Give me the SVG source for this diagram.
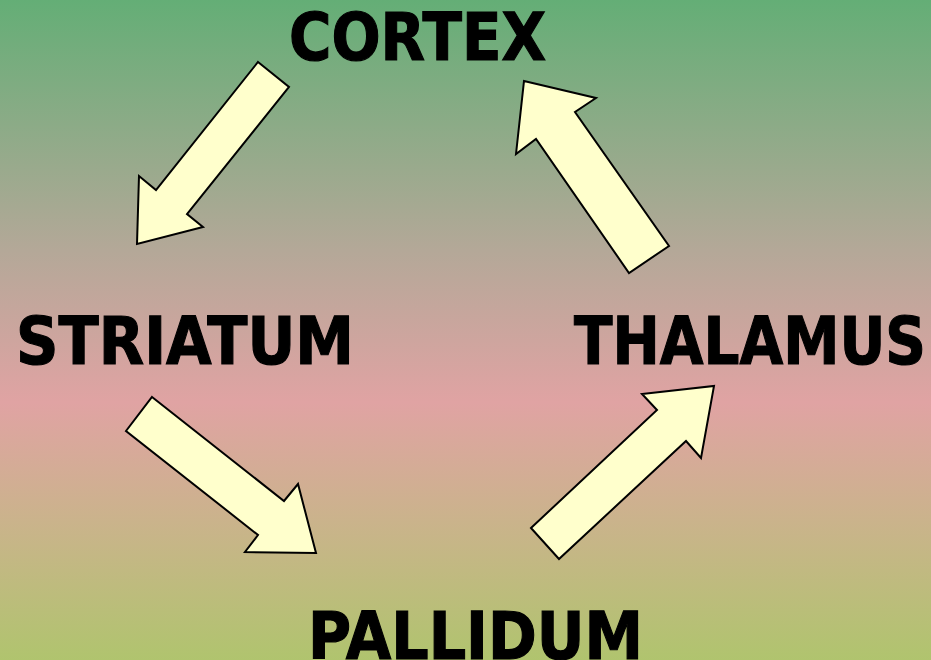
<svg xmlns="http://www.w3.org/2000/svg" width="931" height="660" viewBox="0 0 931 660">
<defs>
<linearGradient id="bg" x1="0" y1="0" x2="0" y2="1">
<stop offset="0" stop-color="#64AE76"/>
<stop offset="0.38" stop-color="#B4A898"/>
<stop offset="0.61" stop-color="#E0A3A3"/>
<stop offset="0.8" stop-color="#C9B48A"/>
<stop offset="1" stop-color="#B0C46E"/>
</linearGradient>
</defs>
<style>
.lbl{font-family:"DejaVu Sans","Verdana",sans-serif;font-weight:bold;font-size:65px;fill:#000;stroke:#000;stroke-width:1.2}
.arr{fill:#FFFFCC;stroke:#000;stroke-width:2;stroke-linejoin:miter}
</style>
<rect x="0" y="0" width="931" height="660" fill="url(#bg)"/>
<g id="cortex"><text class="lbl" x="289" y="60" textLength="257" lengthAdjust="spacingAndGlyphs">CORTEX</text></g>
<g id="striatum"><text class="lbl" x="16" y="364" textLength="338" lengthAdjust="spacingAndGlyphs">STRIATUM</text></g>
<g id="thalamus"><text class="lbl" x="574" y="364" textLength="352" lengthAdjust="spacingAndGlyphs">THALAMUS</text></g>
<g id="pallidum"><text class="lbl" x="308" y="659" textLength="335" lengthAdjust="spacingAndGlyphs">PALLIDUM</text></g>
<g id="connectors">
<polygon class="arr" points="258,62 289,87 187,214 203,227 137,244 139,176 156,190"/>
<polygon class="arr" points="524,81 596,98 575,112 669,246 629,273 536,139 516,154"/>
<polygon class="arr" points="152,397 284,501 298,484 316,553 245,552 258,535 126,431"/>
<polygon class="arr" points="531,528 657,410 642,394 714,386 701,458 686,441 559,559"/>
</g>
</svg>
